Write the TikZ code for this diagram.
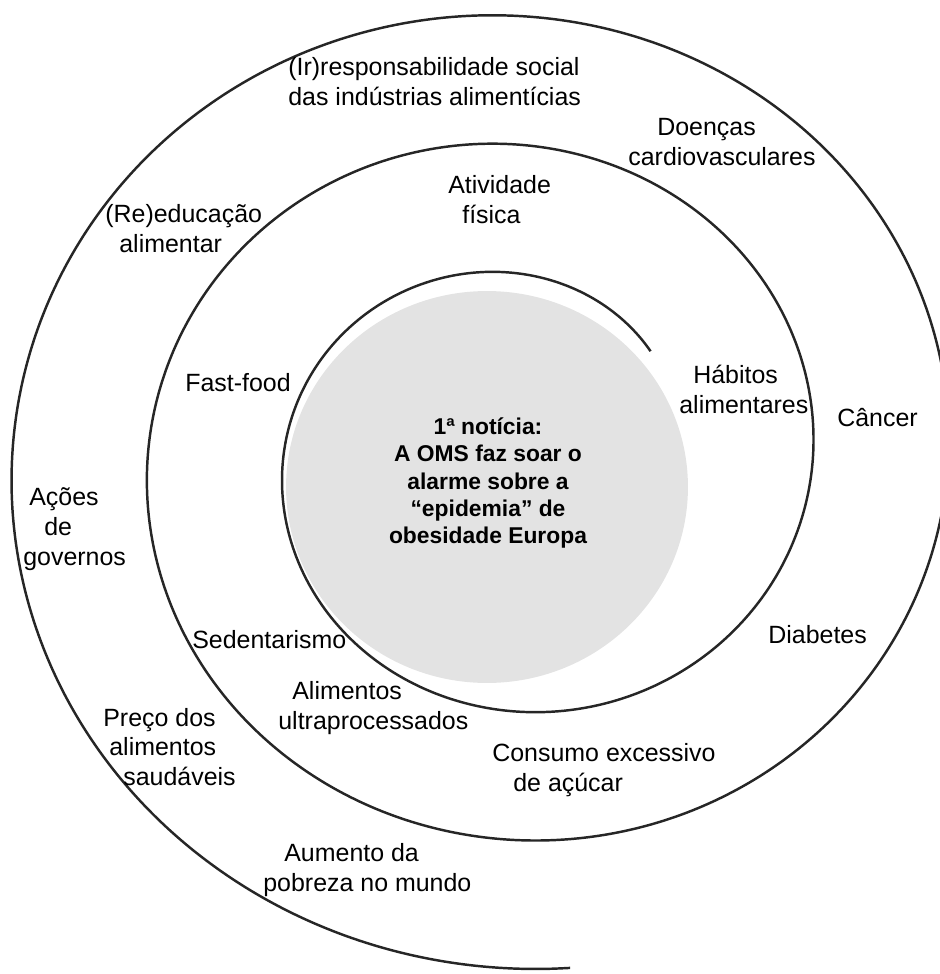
\documentclass[tikz,border=0pt]{standalone}
\usepackage{fontspec}
\setmainfont{Liberation Sans}

\begin{document}
\begin{tikzpicture}[x=0.02cm, y=-0.02cm]
        \tikzstyle{lbl}=[align=left, anchor=west, inner sep=0pt, font=\fontsize{14.2}{17}\selectfont];
        \tikzstyle{news}=[align=center, inner sep=0pt, font=\fontsize{13}{15.6}\selectfont\bfseries];
        \tikzstyle{spiral}=[line width=1.4pt, draw=black!85];
        \useasboundingbox (0,0) rectangle (940,974);
        \clip (0,0) rectangle (940,974);

        % centre disc and spiral
        \fill[black!11] (487,487) ellipse [x radius=4.02cm, y radius=3.92cm];
        \draw[spiral, domain=40:996, samples=500, smooth]
        plot ({514+(163.25+0.3764*\x)*cos(\x)}, {460-0.949*(163.25+0.3764*\x)*sin(\x)});

        \node[news] (news) at (488,483) {1ª notícia:\\A OMS faz soar o\\alarme sobre a\\“epidemia” de\\obesidade Europa};

        \node[lbl] (irresp) at (288,82) {(Ir)responsabilidade social\\das indústrias alimentícias};
        \node[lbl] (doencas) at (628,142) {\hspace*{0.58cm}Doenças\\cardiovasculares};
        \node[lbl] (ativ) at (448,200) {Atividade\\\hspace*{0.28cm}física};
        \node[lbl] (reeduc) at (105,229) {(Re)educação\\\hspace*{0.28cm}alimentar};
        \node[lbl] (fastfood) at (185,383) {Fast-food};
        \node[lbl] (habitos) at (679,389) {\hspace*{0.28cm}Hábitos\\alimentares};
        \node[lbl] (cancer) at (837,418) {Câncer};
        \node[lbl] (acoes) at (23,529) {\hspace*{0.12cm}Ações\\\hspace*{0.42cm}de\\governos};
        \node[lbl] (sedent) at (192,640) {Sedentarismo};
        \node[lbl] (diabetes) at (768,635) {Diabetes};
        \node[lbl] (ultra) at (278,708) {\hspace*{0.28cm}Alimentos\\ultraprocessados};
        \node[lbl] (preco) at (103,747) {Preço dos\\\hspace*{0.12cm}alimentos\\\hspace*{0.4cm}saudáveis};
        \node[lbl] (acucar) at (492,770) {Consumo excessivo\\\hspace*{0.42cm}de açúcar};
        \node[lbl] (pobreza) at (263,870) {\hspace*{0.42cm}Aumento da\\pobreza no mundo};
      \end{tikzpicture}
\end{document}
